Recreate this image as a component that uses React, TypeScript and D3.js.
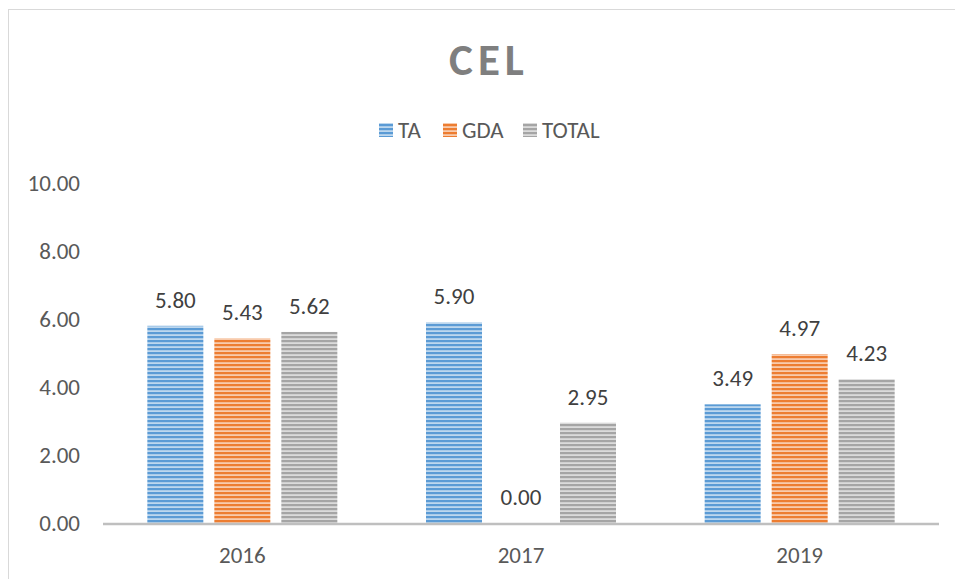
import React from "react";
import * as d3 from "d3";

const categories = ["2016", "2017", "2019"];
const seriesNames = ["TA", "GDA", "TOTAL"];
const taValues = [5.8, 5.9, 3.49];
const gdaValues = [5.43, 0.0, 4.97];
const totalValues = [5.62, 2.95, 4.23];
const yTicks = [0, 2, 4, 6, 8, 10];

const colors = ["#5B9BD5", "#ED7D31", "#A5A5A5"];
const lightColors = ["#BDD7EE", "#F8CBAD", "#DBDBDB"];

export default function App() {
  const W = 955, H = 579;
  const x0 = 103, x1 = 939;
  const yBase = 523, yTop = 183;
  const x = d3.scaleBand<string>().domain(categories).range([x0, x1]).paddingInner(0).paddingOuter(0);
  const y = d3.scaleLinear().domain([0, 10]).range([yBase, yTop]);
  const series = [taValues, gdaValues, totalValues];
  const barW = 56, gap = 11;
  const groupW = 3 * barW + 2 * gap;
  const font = "Carlito, Calibri, 'Liberation Sans', 'Open Sans', sans-serif";
  const textColor = "#595959";
  const fs = 23;

  return (
    <svg width={W} height={H} style={{ position: "absolute", left: 0, top: 0, background: "#fff" }}>
      <defs>
        {colors.map((c, i) => (
          <pattern key={i} id={`p${i}`} patternUnits="userSpaceOnUse" width={8} height={4}>
            <rect width={8} height={4} fill={lightColors[i]} />
            <rect width={8} height={2.2} fill={c} />
          </pattern>
        ))}
      </defs>
      <rect x={0} y={0} width={W} height={H} fill="#fff" />
      <rect x={8.5} y={9.5} width={1000} height={700} fill="none" stroke="#D9D9D9" strokeWidth={1} />
      <text x={489} y={75} textAnchor="middle" fontFamily={font} fontWeight="bold" fontSize={45} fill="#7F7F7F" letterSpacing={5}>CEL</text>
      {seriesNames.map((s, i) => {
        const lx = [379, 443, 523][i];
        return (
          <g key={s}>
            <rect x={lx} y={123} width={14} height={14} fill={`url(#p${i})`} />
            <text x={lx + 19} y={138} fontFamily={font} fontSize={fs} fill={textColor}>{s}</text>
          </g>
        );
      })}
      {yTicks.map((t) => (
        <text key={t} x={80} y={y(t) + 8} textAnchor="end" fontFamily={font} fontSize={fs} fill={textColor}>
          {t.toFixed(2)}
        </text>
      ))}
      {categories.map((c, ci) => {
        const cx = (x(c) as number) + x.bandwidth() / 2;
        const start = cx - groupW / 2;
        return (
          <g key={c}>
            {series.map((vals, si) => {
              const bx = start + si * (barW + gap);
              const v = vals[ci];
              return (
                <g key={si}>
                  {v > 0 && (
                    <rect x={bx} y={y(v)} width={barW} height={yBase - y(v)} fill={`url(#p${si})`} />
                  )}
                  <text x={bx + barW / 2} y={y(v) - 18} textAnchor="middle" fontFamily={font} fontSize={fs} fill="#404040">
                    {v.toFixed(2)}
                  </text>
                </g>
              );
            })}
            <text x={cx} y={563} textAnchor="middle" fontFamily={font} fontSize={fs} fill={textColor}>{c}</text>
          </g>
        );
      })}
      <line x1={x0} x2={x1} y1={yBase + 1} y2={yBase + 1} stroke="#BFBFBF" strokeWidth={2.5} />
    </svg>
  );
}
